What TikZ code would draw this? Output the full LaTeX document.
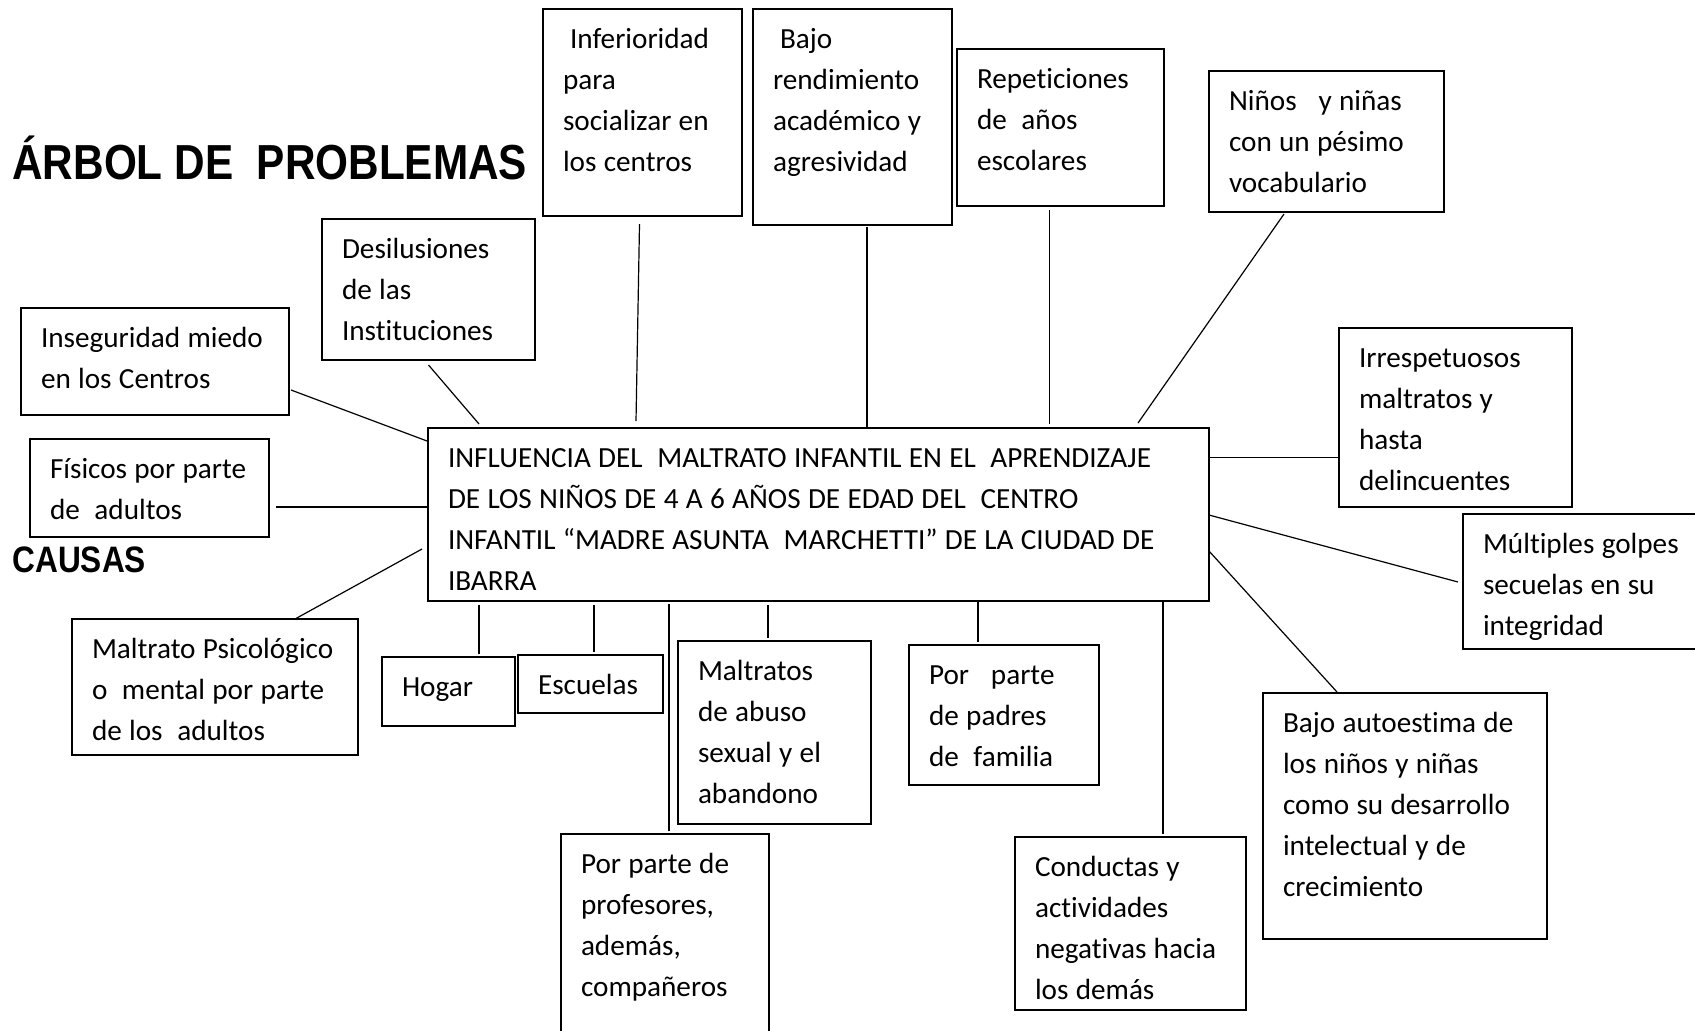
\documentclass[tikz,border=0pt]{standalone}
\usepackage{fontspec}
\setmainfont{Carlito}[Ligatures=NoCommon]
\newfontfamily\titulo{Liberation Sans}[FakeStretch=0.86]
\usetikzlibrary{calc}
\tikzstyle{caja}=[draw, line width=0.7pt, anchor=north west, inner xsep=10pt, inner ysep=0pt, outer sep=0pt, text height=19.5pt, font=\fontsize{14.6}{20.5}\selectfont, execute at begin node={\spaceskip=0.25em plus 0.1em minus 0.06em\relax}]
\tikzstyle{linea}=[line width=0.6pt]

\begin{document}
\begin{tikzpicture}[x=0.5pt, y=-0.5pt]
	\useasboundingbox (0,0) rectangle (1695,1030);

	\node[anchor=base west, inner sep=0pt, font=\titulo\bfseries\fontsize{24.6}{28}\selectfont] (titulo) at (12,179) {ÁRBOL DE\ \ PROBLEMAS};
	\node[anchor=base west, inner sep=0pt, font=\titulo\bfseries\fontsize{18.4}{21}\selectfont] (causas) at (12,572) {CAUSAS};

	% problema central
	\node[caja, text width=370.5pt, text depth=67pt] (main) at (428,428) {INFLUENCIA DEL~ MALTRATO INFANTIL EN EL~ APRENDIZAJE\\DE LOS NIÑOS DE 4 A 6 AÑOS DE EDAD DEL~ CENTRO\\INFANTIL “MADRE ASUNTA~ MARCHETTI” DE LA CIUDAD DE\\IBARRA};

	% efectos
	\node[caja, text width=79.5pt, text depth=84pt] (infer) at (543,9) {\hspace*{3.5pt}Inferioridad\\para\\socializar en\\los centros};
	\node[caja, text width=79.5pt, text depth=88.5pt] (bajo) at (753,9) {\hspace*{3.5pt}Bajo\\rendimiento\\académico y\\agresividad};
	\node[caja, text width=83.5pt, text depth=59pt] (repet) at (957,49) {Repeticiones\\de~ años\\escolares};
	\node[caja, text width=97.5pt, text depth=51pt] (ninos) at (1209,71) {Niños~~ y niñas\\con un pésimo\\vocabulario};
	\node[caja, text width=86.5pt, text depth=51pt] (desil) at (322,219) {Desilusiones\\de las\\Instituciones};
	\node[caja, text width=96.5pt, text depth=70pt] (irresp) at (1339,328) {Irrespetuosos\\maltratos y\\hasta\\delincuentes};
	\node[caja, text width=105pt, text depth=48pt] (multi) at (1463,514) {Múltiples golpes\\secuelas en su\\integridad};
	\node[caja, text width=122pt, text depth=103.5pt] (autoest) at (1263,693) {Bajo autoestima de\\los niños y niñas\\como su desarrollo\\intelectual y de\\crecimiento};
	\node[caja, text width=95.5pt, text depth=67pt] (conduct) at (1015,837) {Conductas y\\actividades\\negativas hacia\\los demás};

	% causas
	\node[caja, text width=114pt, text depth=34pt] (inseg) at (21,308) {Inseguridad miedo\\en los Centros};
	\node[caja, text width=99.5pt, text depth=29.5pt] (fisicos) at (30,439) {Físicos por parte\\de~ adultos};
	\node[caja, text width=123pt, text depth=48.5pt] (psico) at (72,619) {Maltrato Psicológico\\o~ mental por parte\\de los~ adultos};
	\node[caja, text width=46.5pt, text depth=15pt] (hogar) at (382,657) {Hogar};
	\node[caja, text width=52.5pt, text depth=9.5pt] (escuelas) at (518,655) {Escuelas};
	\node[caja, text width=76.5pt, text depth=72pt] (maltratos) at (678,641) {Maltratos\\de abuso\\sexual y el\\abandono};
	\node[caja, text width=75pt, text depth=50.5pt] (padres) at (909,645) {Por~~ parte\\de padres\\de~ familia};
	\node[caja, text width=84pt, text depth=85.5pt] (profes) at (561,834) {Por parte de\\profesores,\\además,\\compañeros};

	% conectores
	\draw[linea] ($(inseg.north east)+(2,82)$) -- ($(main.north west)+(-1,13)$);
	\draw[linea] ($(desil.south)+(0,5)$) -- ($(main.north west)+(51,-4)$);
	\draw[linea] ($(infer.south)+(-3,8)$) -- ($(main.north west)+(208,-7)$);
	\draw[linea] ($(bajo.south west)+(114,2)$) coordinate (b1) -- (b1 |- main.north);
	\draw[linea] ($(repet.south)+(-11,4)$) coordinate (r1) -- ($(r1 |- main.north)+(0,-4)$);
	\draw[linea] ($(ninos.south west)+(75,2)$) -- ($(main.north east)+(-71,-5)$);
	\draw[linea] ($(fisicos.east)+(7,19)$) coordinate (f1) -- (f1 -| main.west);
	\draw[linea] ($(irresp.west)+(0,40)$) coordinate (i1) -- (i1 -| main.east);
	\draw[linea] ($(main.south west)+(-6,-52)$) -- ($(psico.north)+(80,0)$);
	\draw[linea] ($(main.north east)+(0,87)$) -- ($(multi.north west)+(-5,68)$);
	\draw[linea] ($(main.north east)+(0,123)$) -- ($(autoest.north west)+(74,-1)$);
	\foreach \n/\dx/\gap in {hogar/97/4, escuelas/76/4, maltratos/90/4, profes/108/3, padres/69/1, conduct/148/1}
		{
			\draw[linea] ($(\n.north west)+(\dx,-3)$) coordinate (c1) -- ($(c1 |- main.south)+(0,\gap)$);
		}

\end{tikzpicture}
\end{document}
